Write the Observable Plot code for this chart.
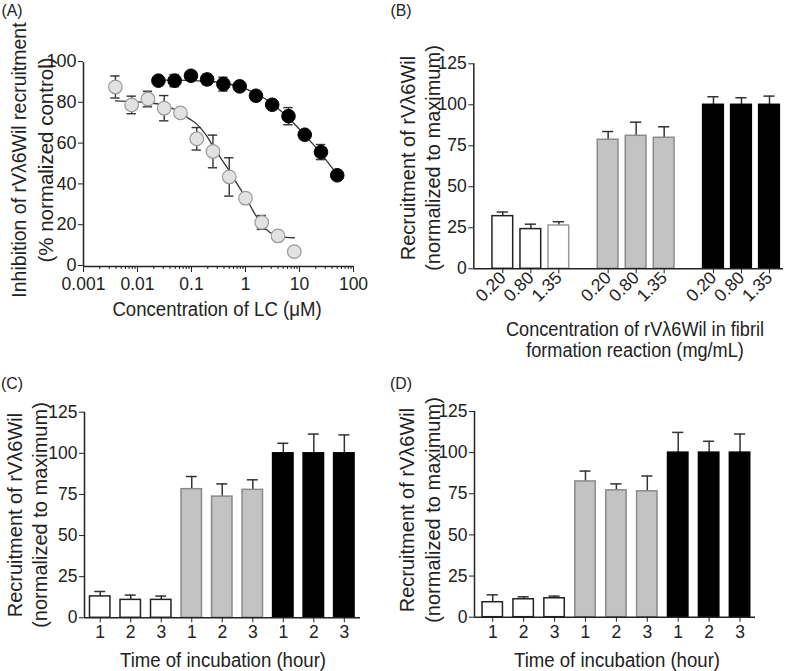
<!DOCTYPE html>
<html><head><meta charset="utf-8">
<script src="https://cdn.jsdelivr.net/npm/d3@7"></script>
<script src="https://cdn.jsdelivr.net/npm/@observablehq/plot@0.6"></script>
<style>
body{margin:0;background:#fff;}
#fig{position:relative;width:800px;height:671px;background:#fff;font-family:"Liberation Sans",Arial,sans-serif;color:#222;overflow:hidden}
.panel{position:absolute}
.lbl{position:absolute;white-space:nowrap;transform:translate(-50%,-50%) scale(0.93,1);line-height:1;color:#222}
.rot{transform:translate(-50%,-50%) rotate(-90deg)}
</style></head><body><div id="fig"></div>
<script>
// ---------- Panel A data ----------
const grayConc   = [0.0039, 0.0078, 0.0156, 0.03125, 0.0625, 0.125, 0.25, 0.5, 1, 2, 4, 8];
const grayInhib  = [88.0, 79.2, 82.1, 77.6, 75.3, 62.6, 56.4, 43.9, 33.5, 21.6, 15.0, 7.3];
const grayErr    = [5.4, 4.3, 3.8, 6.2, 0, 5.5, 8.0, 9.4, 0, 3.4, 0, 0];
const blackConc  = [0.0244, 0.0488, 0.0977, 0.195, 0.39, 0.78, 1.5625, 3.125, 6.25, 12.5, 25, 50];
const blackInhib = [91.1, 91.1, 93.5, 91.7, 89.4, 88.3, 83.7, 79.3, 73.7, 64.6, 56.1, 44.7];
const blackErr   = [0, 3.0, 0, 2.5, 3.4, 0, 0, 0, 4.2, 0, 3.7, 0];
const grayFitConc  = [0.0039, 0.0078, 0.0156, 0.031, 0.0625, 0.09, 0.125, 0.18, 0.25, 0.35, 0.5, 0.7, 1, 1.4, 2, 2.8, 4, 5.6, 8];
const grayFit      = [81.2, 80.9, 80.3, 79.0, 75.5, 72.5, 69.8, 65.0, 59.0, 53.0, 47.0, 40.5, 34.0, 27.0, 20.5, 16.8, 14.8, 14.3, 14.1];
const blackFitConc = [0.0244, 0.05, 0.1, 0.2, 0.39, 0.78, 1.56, 3.125, 6.25, 12.5, 25, 50];
const blackFit     = [91.4, 91.4, 91.2, 90.8, 89.9, 88.2, 84.8, 79.8, 72.8, 64.5, 55.3, 45.0];
const logTicks      = [0.001, 0.01, 0.1, 1, 10, 100];
const logTickLabels = ["0.001", "0.01", "0.1", "1", "10", "100"];
const inhibTicks    = [0, 20, 40, 60, 80, 100];

// ---------- Panels B-D data (groups: white, gray, black) ----------
const groups        = ["white", "gray", "black"];
const fibrilLabels  = ["0.20", "0.80", "1.35"];
const hourLabels    = ["1", "2", "3"];
const recruitTicks  = [0, 25, 50, 75, 100, 125];
const bMeans = [32.1, 24.2, 26.4, 78.7, 81.1, 79.9, 100, 100, 100];
const bErrs  = [2.5, 3.0, 2.3, 5.0, 8.3, 6.7, 4.9, 4.3, 5.3];
const cMeans = [13.0, 10.9, 10.9, 78.2, 73.7, 77.8, 100, 100, 100];
const cErrs  = [3.0, 2.9, 2.3, 7.7, 7.7, 6.1, 6.1, 11.7, 11.2];
const dMeans = [9.1, 10.9, 11.5, 82.5, 77.1, 76.5, 100, 100, 100];
const dErrs  = [4.5, 1.5, 1.3, 6.3, 3.9, 9.3, 12.3, 6.9, 11.3];

const FONT = '"Liberation Sans", Arial, sans-serif';
const INK = "#222";
const TICKFS = 17.5;
const fig = document.getElementById("fig");

function place(node, left, top) {
  const d = document.createElement("div");
  d.className = "panel"; d.style.left = left + "px"; d.style.top = top + "px";
  d.appendChild(node); fig.appendChild(d);
}
function label(text, cx, cy, size, rotate) {
  const d = document.createElement("div");
  d.className = "lbl" + (rotate ? " rot" : "");
  d.style.left = cx + "px"; d.style.top = cy + "px"; d.style.fontSize = size + "px";
  d.textContent = text; fig.appendChild(d);
}

// ---------- Panel A ----------
{
  const gRows = grayConc.map((c, i) => ({c, v: grayInhib[i], e: grayErr[i]}));
  const kRows = blackConc.map((c, i) => ({c, v: blackInhib[i], e: blackErr[i]}));
  const errRows = [...gRows, ...kRows].filter(d => d.e > 0);
  const gFit = grayFitConc.map((c, i) => ({c, v: grayFit[i]}));
  const kFit = blackFitConc.map((c, i) => ({c, v: blackFit[i]}));
  const minor = d3.scaleLog().domain([0.001, 100]).ticks().filter(t => !logTicks.some(m => Math.abs(m - t) / m < 1e-6));
  const capF = 1.22;
  const p = Plot.plot({
    width: 400, height: 340, marginLeft: 83, marginRight: 47, marginTop: 62, marginBottom: 74,
    x: {type: "log", domain: [0.001, 100], axis: null},
    y: {domain: [0, 100], axis: null},
    style: {fontFamily: FONT, fontSize: "16px", color: INK, background: "transparent", overflow: "visible"},
    marks: [
      Plot.ruleX(errRows, {x: "c", y1: d => d.v - d.e, y2: d => d.v + d.e, stroke: "#333", strokeWidth: 1.4}),
      Plot.ruleY(errRows, {y: d => d.v + d.e, x1: d => d.c / capF, x2: d => d.c * capF, stroke: "#333", strokeWidth: 1.4}),
      Plot.ruleY(errRows, {y: d => d.v - d.e, x1: d => d.c / capF, x2: d => d.c * capF, stroke: "#333", strokeWidth: 1.4}),
      Plot.line(gFit, {x: "c", y: "v", curve: "monotone-x", stroke: "#333", strokeWidth: 1.3}),
      Plot.line(kFit, {x: "c", y: "v", curve: "monotone-x", stroke: "#333", strokeWidth: 1.3}),
      Plot.dot(gRows, {x: "c", y: "v", r: 6.8, fill: "#e2e2e2", stroke: "#9a9a9a", strokeWidth: 1.2}),
      Plot.dot(kRows, {x: "c", y: "v", r: 6.8, fill: "#000", stroke: "#000", strokeWidth: 1}),
      Plot.ruleY([0], {x1: 0.001, x2: 100, stroke: INK, strokeWidth: 1.5}),
      Plot.ruleX([0.001], {y1: 0, y2: 100, stroke: INK, strokeWidth: 1.5}),
      Plot.axisY({ticks: inhibTicks, tickSize: 5, tickPadding: 2, label: null, fontSize: 18, dy: -1}),
      Plot.axisX({ticks: minor, tickSize: 3, tickFormat: () => "", label: null}),
      Plot.axisX({ticks: logTicks, tickSize: 6, tickPadding: 5, tickFormat: (d) => logTickLabels[logTicks.indexOf(d)], label: null, fontSize: TICKFS})
    ]
  });
  place(p, 0, 0);
  label("(A)", 12, 10, 17);
  label("Inhibition of rV\u03bb6Wil recruitment", 20, 160, 19.5, true);
  label("(% normalized control)", 46, 160, 20.5, true);
  label("Concentration of LC (\u03bcM)", 217, 309, 20);
}

// ---------- Bar panels ----------
function barPanel({means, errs, tickLabels, period, hw, capHw, domain, m, height, rotate}) {
  const rows = means.map((v, i) => {
    const g = Math.floor(i / 3), j = i % 3;
    return {g, j, pos: g * period + j, v, e: errs[i], lab: tickLabels[j]};
  });
  const fills = ["#fff", "#c3c3c3", "#000"];
  const strokes = ["#222", "#8a8a8a", "#000"];
  const posTicks = rows.map(d => d.pos);
  return Plot.plot({
    width: 400, height, marginLeft: m[0], marginRight: m[1], marginTop: m[2], marginBottom: m[3],
    x: {type: "linear", domain, axis: null},
    y: {domain: [0, 125], axis: null},
    style: {fontFamily: FONT, fontSize: "16px", color: INK, background: "transparent", overflow: "visible"},
    marks: [
      Plot.ruleX(rows, {x: "pos", y1: "v", y2: d => d.v + d.e, stroke: "#333", strokeWidth: 1.5}),
      Plot.ruleY(rows, {y: d => d.v + d.e, x1: d => d.pos - capHw, x2: d => d.pos + capHw, stroke: "#333", strokeWidth: 1.5}),
      Plot.rectY(rows, {x1: d => d.pos - hw, x2: d => d.pos + hw, y1: 0, y2: "v",
        fill: d => fills[d.g], stroke: d => (rotate && d.g === 0 && d.j === 2) ? "#999" : strokes[d.g], strokeWidth: 1.5}),
      Plot.ruleY([0], {x1: domain[0], x2: domain[1], stroke: INK, strokeWidth: 1.5}),
      Plot.ruleX([domain[0]], {y1: 0, y2: 125, stroke: INK, strokeWidth: 1.5}),
      Plot.axisY({ticks: recruitTicks, tickSize: 5, tickPadding: 2, label: null, fontSize: TICKFS}),
      Plot.axisX({ticks: posTicks, tickSize: 5, tickPadding: rotate ? 1 : 3,
        tickRotate: rotate ? -45 : 0, tickFormat: d => rows.find(r => r.pos === d).lab, label: null, fontSize: TICKFS})
    ]
  });
}

place(barPanel({means: bMeans, errs: bErrs, tickLabels: fibrilLabels, period: 3.76, hw: 0.37, capHw: 0.2,
  domain: [-1.036, 10.02], m: [73.3, 17, 63.3, 71.7], height: 340, rotate: true}), 400, 0);
label("(B)", 401, 10, 17);
label("Recruitment of rV\u03bb6Wil", 408, 158, 20, true);
label("(normalized to maximum)", 433, 158, 20, true);
label("Concentration of rV\u03bb6Wil in fibril", 635, 330, 19.5);
label("formation reaction (mg/mL)", 635, 351, 19.5);

place(barPanel({means: cMeans, errs: cErrs, tickLabels: hourLabels, period: 3, hw: 0.335, capHw: 0.18,
  domain: [-0.515, 8.53], m: [84, 40, 71.7, 53.7], height: 331, rotate: false}), 0, 340);
label("(C)", 12, 383, 17);
label("Recruitment of rV\u03bb6Wil", 15, 515, 20, true);
label("(normalized to maximum)", 40, 515, 20, true);
label("Time of incubation (hour)", 223, 660, 20);

place(barPanel({means: dMeans, errs: dErrs, tickLabels: hourLabels, period: 3, hw: 0.33, capHw: 0.18,
  domain: [-0.59, 8.5], m: [74, 45, 71, 54.3], height: 331, rotate: false}), 400, 340);
label("(D)", 401, 383, 17);
label("Recruitment of rV\u03bb6Wil", 407, 510, 20, true);
label("(normalized to maximum)", 433, 510, 20, true);
label("Time of incubation (hour)", 617, 660, 20);
</script></body></html>
